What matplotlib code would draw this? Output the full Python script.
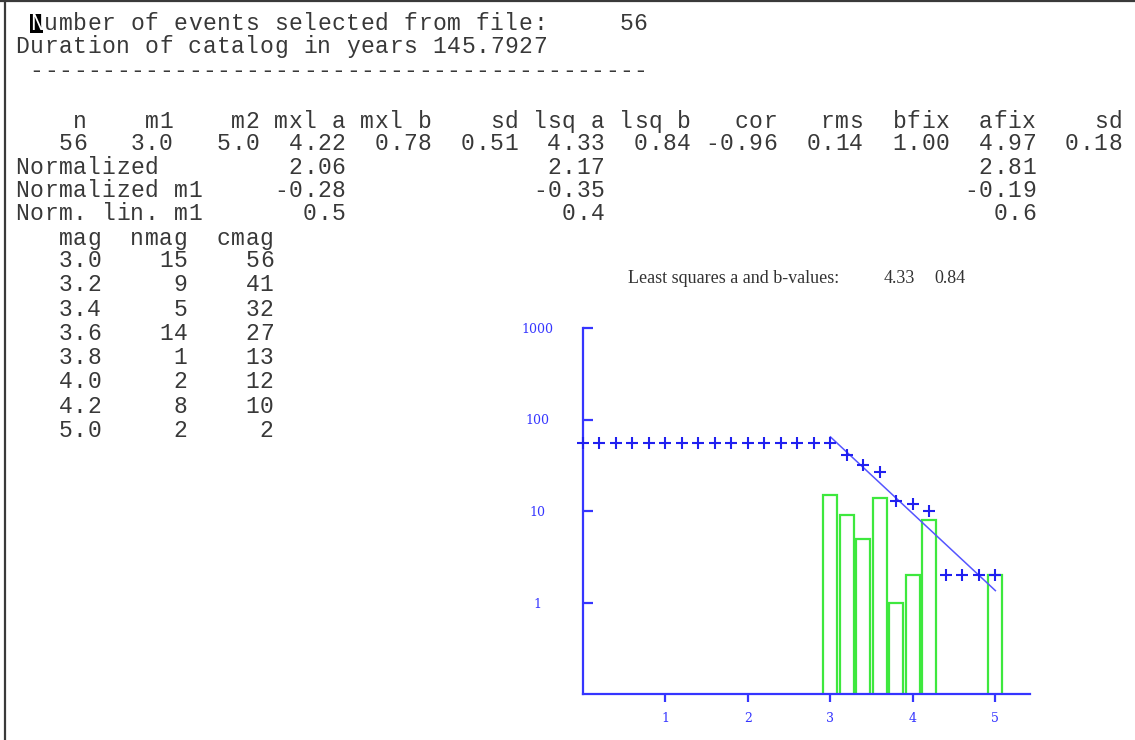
import matplotlib
matplotlib.use("Agg")
import matplotlib.pyplot as plt
from matplotlib.lines import Line2D
from matplotlib.patches import Rectangle
from matplotlib.ticker import NullLocator

# catalogue summary
n_events = 56
duration_years = 145.7927

# b-value results, one row
stat_names = ["n", "m1", "m2", "mxl a", "mxl b", "sd", "lsq a", "lsq b",
              "cor", "rms", "bfix", "afix", "sd"]
stat_values = [56, 3.0, 5.0, 4.22, 0.78, 0.51, 4.33, 0.84, -0.96, 0.14,
               1.00, 4.97, 0.18]
stat_decimals = [0, 1, 1, 2, 2, 2, 2, 2, 2, 2, 2, 2, 2]

# normalized a-values (max likelihood, least squares, fixed b)
norm_labels = ["Normalized", "Normalized m1", "Norm. lin. m1"]
norm_mxl = [2.06, -0.28, 0.5]
norm_lsq = [2.17, -0.35, 0.4]
norm_fix = [2.81, -0.19, 0.6]
norm_decimals = [2, 2, 1]

# magnitude table
mag = [3.0, 3.2, 3.4, 3.6, 3.8, 4.0, 4.2, 5.0]
nmag = [15, 9, 5, 14, 1, 2, 8, 2]
cmag = [56, 41, 32, 27, 13, 12, 10, 2]

# cumulative counts on the 0.2 magnitude grid
cum_mag = [0.0, 0.2, 0.4, 0.6, 0.8, 1.0, 1.2, 1.4, 1.6, 1.8, 2.0, 2.2, 2.4,
           2.6, 2.8, 3.0, 3.2, 3.4, 3.6, 3.8, 4.0, 4.2, 4.4, 4.6, 4.8, 5.0]
cum_count = [56, 56, 56, 56, 56, 56, 56, 56, 56, 56, 56, 56, 56,
             56, 56, 56, 41, 32, 27, 13, 12, 10, 2, 2, 2, 2]

lsq_a, lsq_b = 4.33, 0.84
fit_range = [3.0, 5.0]

W, H = 1135, 740
fig = plt.figure(figsize=(W / 100, H / 100), dpi=100)
fig.patch.set_facecolor("white")


def fx(x):
    return x / W


def fy(y):
    return 1 - y / H


# terminal text grid: every character sits in a fixed-width cell
X0 = 15.0
CW = 14.38
mono = dict(family="Liberation Mono", size=16.6, color="#383838",
            va="baseline", ha="center")


def line(y, s, skip=()):
    for i, ch in enumerate(s):
        if ch != " " and i not in skip:
            fig.text(fx(X0 + (i + 0.5) * CW), fy(y), ch, **mono)


line(30, f" Number of events selected from file:{n_events:7d}", skip=(1,))
line(53, f"Duration of catalog in years{duration_years:9.4f}")
line(77, " " + "-" * 43)

# cursor block on the first line
fig.add_artist(Rectangle((fx(X0 + CW + 1), fy(33)), (CW - 2) / W, 19 / H,
                         transform=fig.transFigure, color="black", lw=0))
fig.text(fx(X0 + 1.5 * CW), fy(30), "N", **{**mono, "color": "white"})

header = f"{stat_names[0]:>5}" + "".join(f"{s:>6}" for s in stat_names[1:])
values = f"{stat_values[0]:5d}" + "".join(
    f"{v:6.{d}f}" for v, d in zip(stat_values[1:], stat_decimals[1:]))
line(128, header)
line(150, values)

for y, lab, a1, a2, a3, d in zip([174, 197, 220], norm_labels, norm_mxl,
                                 norm_lsq, norm_fix, norm_decimals):
    line(y, f"{lab:<17}{a1:6.{d}f}" + " " * 12 + f"{a2:6.{d}f}"
         + " " * 24 + f"{a3:6.{d}f}")

line(245, f"{'mag':>6}{'nmag':>6}{'cmag':>6}")
rows_y = [267, 291.3, 315.6, 339.9, 364.2, 388.5, 412.8, 437.1]
for y, m, n, c in zip(rows_y, mag, nmag, cmag):
    line(y, f"{m:6.1f}{n:6d}{c:6d}")

# window frame
fig.add_artist(Line2D([fx(5), fx(5)], [0, 1], color="#3a3a3a", lw=1.6,
                      transform=fig.transFigure))
fig.add_artist(Line2D([0, 1], [fy(1), fy(1)], color="#3a3a3a", lw=1.6,
                      transform=fig.transFigure))

# frequency-magnitude plot
blue = "#3535ff"
ax = fig.add_axes([fx(583), fy(694), 447 / W, 366 / H])
ax.set_facecolor("none")
ax.set_yscale("log")
ax.set_xlim(0, 5.42)
ax.set_ylim(0.1, 1000)

ax.bar(mag, nmag, width=0.17, fill=False, edgecolor="#3ee83e", lw=1.6,
       zorder=2)
ax.plot(cum_mag, cum_count, ls="none", marker="+", ms=8, mew=1.5,
        color="#2020f0", clip_on=False, zorder=4)
ax.plot(fit_range, [10 ** (lsq_a - lsq_b * m) for m in fit_range],
        color="#5555ff", lw=1.1, zorder=3)

for side in ("top", "right"):
    ax.spines[side].set_visible(False)
for side in ("left", "bottom"):
    ax.spines[side].set_color(blue)
    ax.spines[side].set_linewidth(1.6)

ax.set_xticks([1, 2, 3, 4, 5])
ax.set_xticklabels(["1", "2", "3", "4", "5"])
ax.set_yticks([1, 10, 100, 1000])
ax.set_yticklabels(["1", "10", "100", "1000"])
ax.yaxis.set_minor_locator(NullLocator())
ax.tick_params(axis="y", direction="in", length=7.5, width=1.6, color=blue,
               labelcolor=blue, labelsize=9, pad=33)
ax.tick_params(axis="x", direction="out", length=6, width=1.6, color=blue,
               labelcolor=blue, labelsize=9, pad=7)
for lbl in ax.get_yticklabels():
    lbl.set_ha("center")
for lbl in ax.get_xticklabels() + ax.get_yticklabels():
    lbl.set_family("DejaVu Serif")

serif = dict(family="Liberation Serif", size=13, color="#333333",
             va="baseline")
fig.text(fx(628), fy(283), "Least squares a and b-values:", **serif)
fig.text(fx(884), fy(283), f"{lsq_a:.2f}", **serif)
fig.text(fx(934), fy(283), f"{lsq_b:.2f}", **serif)

fig.savefig("out.png", dpi=100)
